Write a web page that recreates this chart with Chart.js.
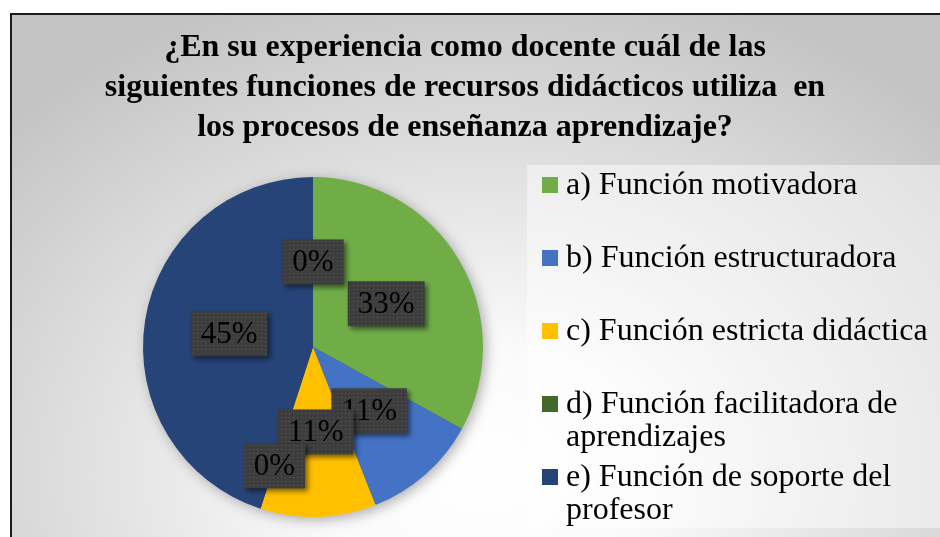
<!DOCTYPE html>
<html>
<head>
<meta charset="utf-8">
<script src="https://cdn.jsdelivr.net/npm/chart.js@4.4.1/dist/chart.umd.min.js"></script>
<style>
  html, body { margin: 0; padding: 0; background: #fff; }
  #frame {
    position: absolute; left: 10px; top: 13px; width: 940px; height: 540px;
    border-top: 2px solid #1c1c1c; border-left: 2px solid #1c1c1c;
    background: radial-gradient(ellipse 70% 95% at 50% 85%, #ffffff 0%, #fafafa 25%, #c3c3c3 100%);
  }
  #wrap { position: absolute; left: 0; top: 0; width: 940px; height: 537px; }
</style>
</head>
<body>
<div id="frame"></div>
<div id="wrap"><canvas id="myChart"></canvas></div>
<script>
// Chart data
const titleLines = [
  '¿En su experiencia como docente cuál de las',
  'siguientes funciones de recursos didácticos utiliza  en',
  'los procesos de enseñanza aprendizaje?'
];
const categories = [
  'a) Función motivadora',
  'b) Función estructuradora',
  'c) Función estricta didáctica',
  'd) Función facilitadora de aprendizajes',
  'e) Función de soporte del profesor',
  ''
];
const percentages = [33, 11, 11, 0, 45, 0];

const serif = '"Liberation Serif", "Times New Roman", serif';

// dotted dark fill used behind the data labels
function dotPattern(ctx) {
  const pc = document.createElement('canvas');
  pc.width = 4; pc.height = 4;
  const p = pc.getContext('2d');
  p.fillStyle = '#3d3d3d';
  p.fillRect(0, 0, 4, 4);
  p.fillStyle = '#5a5a5a';
  p.fillRect(1, 1, 1, 1);
  return ctx.createPattern(pc, 'repeat');
}

function wrapText(ctx, text, maxWidth) {
  const words = text.split(' ');
  const lines = [];
  let line = '';
  words.forEach(w => {
    const test = line ? line + ' ' + w : w;
    if (line && ctx.measureText(test).width > maxWidth) {
      lines.push(line);
      line = w;
    } else {
      line = test;
    }
  });
  if (line) lines.push(line);
  return lines;
}

// title across the top of the frame
const titlePlugin = {
  id: 'frameTitle',
  afterDraw(chart) {
    const ctx = chart.ctx;
    ctx.save();
    ctx.font = 'bold 32px ' + serif;
    ctx.fillStyle = '#000';
    ctx.textAlign = 'center';
    ctx.textBaseline = 'middle';
    titleLines.forEach((line, i) => ctx.fillText(line, 465, 48 + i * 40));
    ctx.restore();
  }
};

// legend on the right, one entry every 73px
const sideLegend = {
  id: 'sideLegend',
  beforeDraw(chart) {
    const ctx = chart.ctx;
    ctx.save();
    ctx.fillStyle = 'rgba(255,255,255,0.45)';
    ctx.fillRect(527, 165, 413, 363);
    ctx.restore();
  },
  afterDraw(chart) {
    const ctx = chart.ctx;
    const colors = chart.data.datasets[0].backgroundColor;
    ctx.save();
    ctx.font = '32px ' + serif;
    ctx.textBaseline = 'middle';
    let y = 185;
    chart.data.labels.forEach((label, i) => {
      if (!label) return;
      ctx.fillStyle = colors[i];
      ctx.fillRect(542, y - 8, 16, 16);
      ctx.fillStyle = '#000';
      wrapText(ctx, label, 372).forEach((ln, j) => ctx.fillText(ln, 566, y + 1 + j * 33));
      y += 73;
    });
    ctx.restore();
  }
};

// soft shadow under the pie
const pieShadow = {
  id: 'pieShadow',
  beforeDatasetsDraw(chart) {
    const arc = chart.getDatasetMeta(0).data[0];
    if (!arc) return;
    const ctx = chart.ctx;
    ctx.save();
    ctx.shadowColor = 'rgba(0,0,0,0.35)';
    ctx.shadowBlur = 14;
    ctx.shadowOffsetX = 3;
    ctx.shadowOffsetY = 3;
    ctx.beginPath();
    ctx.arc(arc.x, arc.y, arc.outerRadius - 1, 0, Math.PI * 2);
    ctx.fillStyle = '#264478';
    ctx.fill();
    ctx.restore();
  }
};

// percentage boxes on the slices
const boxLabels = {
  id: 'boxLabels',
  afterDatasetsDraw(chart, args, opts) {
    const ctx = chart.ctx;
    const meta = chart.getDatasetMeta(0);
    const values = chart.data.datasets[0].data;
    const total = values.reduce((a, b) => a + b, 0);
    const fill = dotPattern(ctx);
    ctx.save();
    ctx.font = '31px ' + serif;
    ctx.textAlign = 'center';
    ctx.textBaseline = 'middle';
    meta.data.forEach((arc, i) => {
      const mid = (arc.startAngle + arc.endAngle) / 2;
      const r = arc.outerRadius * 0.5 * (opts.push[i] || 1);
      const x = arc.x + Math.cos(mid) * r;
      const y = arc.y + Math.sin(mid) * r;
      const text = Math.round(values[i] / total * 100) + '%';
      const w = ctx.measureText(text).width + 20;
      const h = 45;
      ctx.save();
      ctx.shadowColor = 'rgba(0,0,0,0.5)';
      ctx.shadowBlur = 5;
      ctx.shadowOffsetX = 3;
      ctx.shadowOffsetY = 3;
      ctx.fillStyle = fill;
      ctx.fillRect(x - w / 2, y - h / 2, w, h);
      ctx.restore();
      ctx.fillStyle = '#000';
      ctx.fillText(text, x, y + 1);
    });
    ctx.restore();
  }
};

const ctx = document.getElementById('myChart');

const myChart = new Chart(ctx, {
  type: 'pie',
  data: {
    labels: categories,
    datasets: [{
      data: percentages,
      backgroundColor: ['#70AD47', '#4472C4', '#FFC000', '#43682B', '#264478', '#9E480E'],
      borderWidth: 0,
      hoverOffset: 0
    }]
  },
  options: {
    responsive: true,
    maintainAspectRatio: false,
    animation: false,
    events: [],
    layout: { padding: { left: 143, right: 457, top: 177, bottom: 20 } },
    plugins: {
      legend: { display: false },
      title: { display: false },
      tooltip: { enabled: false },
      boxLabels: { push: { 3: 1.47 } }
    }
  },
  plugins: [sideLegend, pieShadow, boxLabels, titlePlugin]
});
</script>
</body>
</html>
